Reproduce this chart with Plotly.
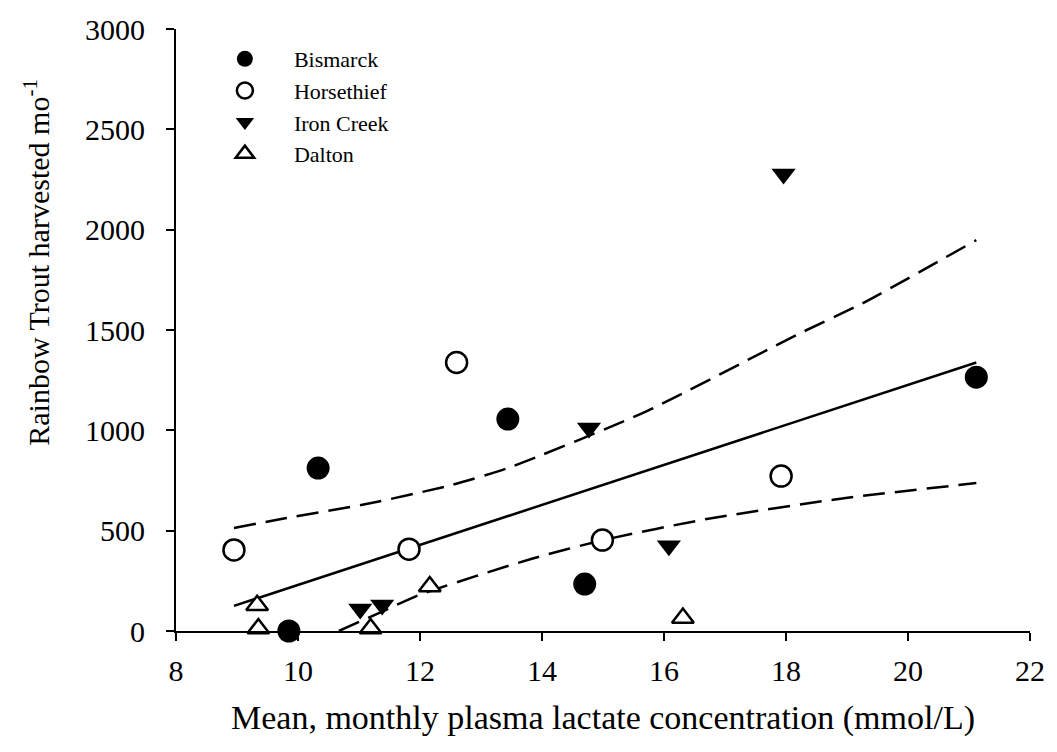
import plotly.graph_objects as go

# ---- data ----
bismarck_x = [9.85, 10.33, 13.44, 14.70, 21.12]
bismarck_y = [0, 812, 1056, 234, 1265]

horsethief_x = [8.95, 11.82, 12.60, 14.99, 17.92]
horsethief_y = [404, 408, 1338, 453, 772]

iron_x = [11.02, 11.38, 14.77, 16.08, 17.96]
iron_y = [110, 130, 1012, 425, 2277]

dalton_x = [9.33, 9.35, 11.19, 12.16, 16.31]
dalton_y = [128, 12, 12, 222, 65]

fit_x = [8.95, 21.12]
fit_y = [125, 1338]

upper_x = [8.95, 9.81, 11.16, 12.51, 13.44, 15.72, 18.17, 19.26, 21.12]
upper_y = [513, 563, 635, 727, 812, 1096, 1475, 1634, 1948]

lower_x = [10.67, 11.49, 11.98, 13.82, 15.00, 16.70, 18.98, 21.12]
lower_y = [0, 112, 179, 359, 453, 558, 663, 737]

x_ticks = [8, 10, 12, 14, 16, 18, 20, 22]
y_ticks = [0, 500, 1000, 1500, 2000, 2500, 3000]

FONT = "Liberation Serif"

fig = go.Figure()

# regression and confidence bands
dash_style = dict(color="black", width=2.5, dash="22px,10px", shape="spline", smoothing=0.6)
fig.add_trace(go.Scatter(x=upper_x, y=upper_y, mode="lines", showlegend=False,
                         line=dash_style, hoverinfo="skip"))
fig.add_trace(go.Scatter(x=lower_x, y=lower_y, mode="lines", showlegend=False,
                         line=dash_style, hoverinfo="skip"))
fig.add_trace(go.Scatter(x=fit_x, y=fit_y, mode="lines", showlegend=False,
                         line=dict(color="black", width=2.5), hoverinfo="skip"))

# points
fig.add_trace(go.Scatter(x=bismarck_x, y=bismarck_y, mode="markers", name="Bismarck",
                         marker=dict(symbol="circle", size=23, color="black"), cliponaxis=False))
fig.add_trace(go.Scatter(x=horsethief_x, y=horsethief_y, mode="markers", name="Horsethief",
                         marker=dict(symbol="circle", size=21, color="white",
                                     line=dict(color="black", width=2.5)), cliponaxis=False))
fig.add_trace(go.Scatter(x=iron_x, y=iron_y, mode="markers", name="Iron Creek",
                         marker=dict(symbol="triangle-down", size=21, color="black"), cliponaxis=False))
fig.add_trace(go.Scatter(x=dalton_x, y=dalton_y, mode="markers", name="Dalton",
                         marker=dict(symbol="triangle-up", size=19, color="white",
                                     line=dict(color="black", width=2.5)), cliponaxis=False))

fig.update_layout(
    width=1057, height=752,
    margin=dict(l=176, r=22, t=29, b=121),
    paper_bgcolor="white", plot_bgcolor="white",
    font=dict(family=FONT, color="black", size=26),
    showlegend=True,
    legend=dict(x=0.0233, y=0.985, xanchor="left", yanchor="top",
                bgcolor="rgba(0,0,0,0)", borderwidth=0,
                font=dict(family=FONT, size=22, color="black"),
                itemwidth=88, tracegroupgap=0),
    xaxis=dict(range=[8, 22], tickvals=x_ticks, ticktext=[str(v) for v in x_ticks],
               showgrid=False, zeroline=False, showline=True, linecolor="black", linewidth=2,
               ticks="outside", ticklen=8, tickwidth=2, tickcolor="black",
               ticklabelstandoff=4,
               tickfont=dict(family=FONT, size=30, color="black")),
    yaxis=dict(range=[0, 3000], tickvals=y_ticks, ticktext=[str(v) for v in y_ticks],
               showgrid=False, zeroline=False, showline=True, linecolor="black", linewidth=2,
               ticks="outside", ticklen=8, tickwidth=2, tickcolor="black",
               ticklabelstandoff=15,
               tickfont=dict(family=FONT, size=30, color="black")),
    annotations=[
        dict(text="Mean, monthly plasma lactate concentration (mmol/L)",
             xref="paper", yref="paper", x=0.5, y=-0.145, xanchor="center", yanchor="middle",
             showarrow=False, font=dict(family=FONT, size=34, color="black")),
        dict(text="Rainbow Trout harvested mo<sup>-1</sup>",
             xref="paper", yref="paper", x=-0.163, y=0.613, xanchor="center", yanchor="middle",
             textangle=-90, showarrow=False, font=dict(family=FONT, size=30, color="black")),
    ],
)

fig.write_html("out.html")
